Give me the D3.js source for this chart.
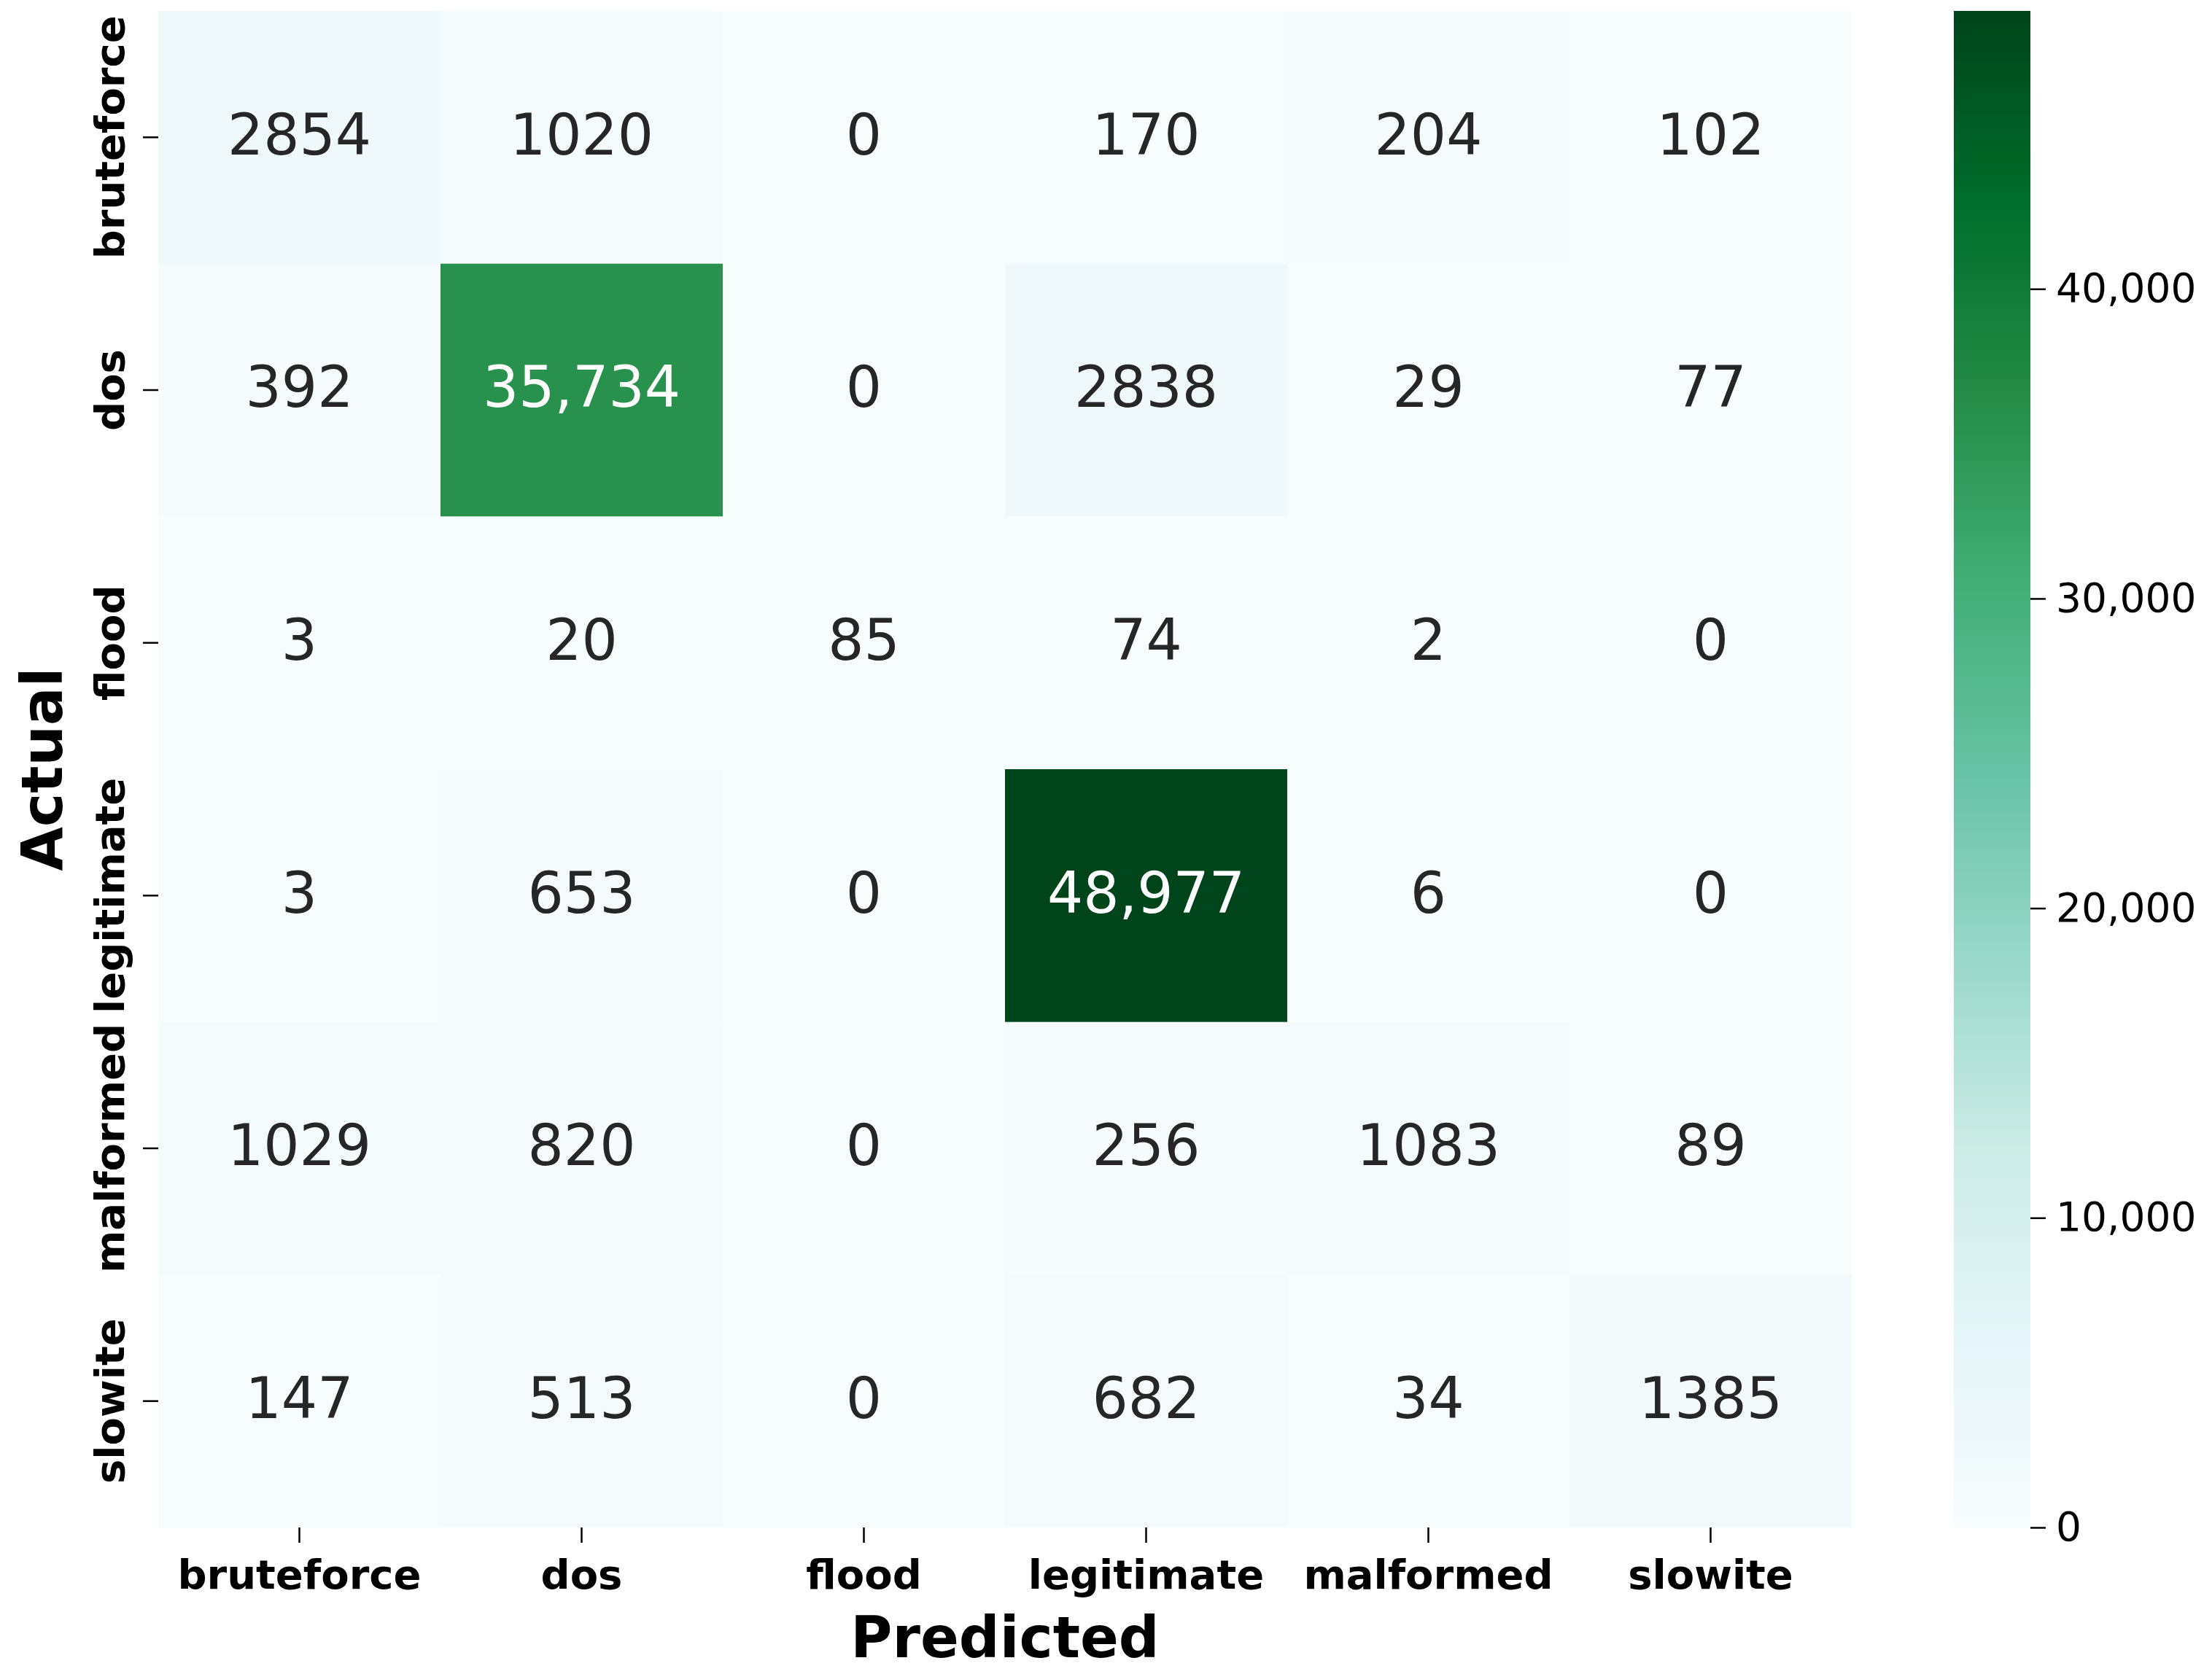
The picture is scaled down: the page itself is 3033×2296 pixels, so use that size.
<!DOCTYPE html>
<html>
<head>
<meta charset="utf-8">
<script src="https://cdn.jsdelivr.net/npm/d3@7"></script>
<style>
  html, body { margin: 0; padding: 0; background: #ffffff; }
  svg { display: block; font-family: "DejaVu Sans", sans-serif; }
</style>
</head>
<body>
<script>
// ---------- data ----------
const actualLabels = ["bruteforce", "dos", "flood", "legitimate", "malformed", "slowite"];
const predictedLabels = ["bruteforce", "dos", "flood", "legitimate", "malformed", "slowite"];
const rowBruteforce = [2854, 1020, 0, 170, 204, 102];
const rowDos        = [392, 35734, 0, 2838, 29, 77];
const rowFlood      = [3, 20, 85, 74, 2, 0];
const rowLegitimate = [3, 653, 0, 48977, 6, 0];
const rowMalformed  = [1029, 820, 0, 256, 1083, 89];
const rowSlowite    = [147, 513, 0, 682, 34, 1385];
const colorbarTicks = [0, 10000, 20000, 30000, 40000];
const bugnColors = ["#f7fcfd", "#e5f5f9", "#ccece6", "#99d8c9", "#66c2a4", "#41ae76", "#238b45", "#006d2c", "#00441b"];
const xAxisTitle = "Predicted";
const yAxisTitle = "Actual";

const matrix = [rowBruteforce, rowDos, rowFlood, rowLegitimate, rowMalformed, rowSlowite];
const cells = [];
matrix.forEach((row, i) => row.forEach((v, j) => cells.push({ actual: actualLabels[i], predicted: predictedLabels[j], value: v })));

// ---------- layout ----------
const W = 3033, H = 2296;
const hm = { left: 217, right: 2539, top: 15, bottom: 2095 };
const cb = { left: 2679, right: 2784, top: 15, bottom: 2095 };
const tickLen = 21;
const tickFont = 56, cbFont = 55, annotFont = 77.5, titleFont = 78;

const vmax = d3.max(cells, d => d.value);
const color = d3.scaleLinear()
  .domain(bugnColors.map((c, i) => i / (bugnColors.length - 1) * vmax))
  .range(bugnColors)
  .interpolate(d3.interpolateRgb);

const x = d3.scaleBand().domain(predictedLabels).range([hm.left, hm.right]).padding(0);
const y = d3.scaleBand().domain(actualLabels).range([hm.top, hm.bottom]).padding(0);

const svg = d3.select("body").append("svg").attr("width", W).attr("height", H);

// ---------- cells ----------
svg.append("g").selectAll("rect").data(cells).join("rect")
  .attr("x", d => x(d.predicted))
  .attr("y", d => y(d.actual))
  .attr("width", x.bandwidth() + 0.5)
  .attr("height", y.bandwidth() + 0.5)
  .attr("fill", d => color(d.value));

function relLum(c) {
  const rgb = d3.rgb(c);
  const f = v => { v /= 255; return v <= 0.03928 ? v / 12.92 : Math.pow((v + 0.055) / 1.055, 2.4); };
  return 0.2126 * f(rgb.r) + 0.7152 * f(rgb.g) + 0.0722 * f(rgb.b);
}
const fmtAnnot = v => v >= 10000 ? d3.format(",")(v) : String(v);

svg.append("g").selectAll("text").data(cells).join("text")
  .attr("x", d => x(d.predicted) + x.bandwidth() / 2)
  .attr("y", d => y(d.actual) + y.bandwidth() / 2 + annotFont * 0.3)
  .attr("text-anchor", "middle")
  .attr("font-size", annotFont)
  .attr("fill", d => relLum(color(d.value)) > 0.408 ? "#262626" : "#ffffff")
  .text(d => fmtAnnot(d.value));

// ---------- x axis ----------
const xAxis = d3.axisBottom(x).tickSize(tickLen).tickPadding(18);
const gx = svg.append("g").attr("transform", `translate(0,${hm.bottom})`).call(xAxis);
gx.select(".domain").remove();
gx.selectAll(".tick line").attr("stroke", "#000").attr("stroke-width", 2.5);
gx.selectAll(".tick text")
  .attr("font-family", "DejaVu Sans").attr("font-weight", "bold")
  .attr("font-size", tickFont).attr("fill", "#000")
  .attr("dy", null).attr("y", 0)
  .attr("transform", `translate(0,${2179 - hm.bottom})`);

// ---------- y axis ----------
const yAxis = d3.axisLeft(y).tickSize(tickLen).tickPadding(0);
const gy = svg.append("g").attr("transform", `translate(${hm.left},0)`).call(yAxis);
gy.select(".domain").remove();
gy.selectAll(".tick line").attr("stroke", "#000").attr("stroke-width", 2.5);
gy.selectAll(".tick text")
  .attr("font-family", "DejaVu Sans").attr("font-weight", "bold")
  .attr("font-size", tickFont).attr("fill", "#000")
  .attr("x", null).attr("dy", null)
  .attr("text-anchor", "middle")
  .attr("transform", `translate(${170 - hm.left},0) rotate(-90)`);

// ---------- axis titles ----------
svg.append("text")
  .attr("x", (hm.left + hm.right) / 2).attr("y", 2273)
  .attr("text-anchor", "middle").attr("font-weight", "bold")
  .attr("font-size", titleFont).attr("fill", "#000")
  .text(xAxisTitle);
svg.append("text")
  .attr("transform", `translate(85,${(hm.top + hm.bottom) / 2}) rotate(-90)`)
  .attr("text-anchor", "middle").attr("font-weight", "bold")
  .attr("font-size", titleFont).attr("fill", "#000")
  .text(yAxisTitle);

// ---------- colorbar ----------
const defs = svg.append("defs");
const grad = defs.append("linearGradient").attr("id", "cbgrad")
  .attr("x1", 0).attr("y1", 1).attr("x2", 0).attr("y2", 0);
grad.selectAll("stop").data(color.domain()).join("stop")
  .attr("offset", d => d / vmax)
  .attr("stop-color", d => color(d));

const cy = d3.scaleLinear().domain([0, vmax]).range([cb.bottom, cb.top]);
svg.append("rect")
  .attr("x", cb.left).attr("y", cb.top)
  .attr("width", cb.right - cb.left).attr("height", cb.bottom - cb.top)
  .attr("fill", "url(#cbgrad)");

const cAxis = d3.axisRight(cy).tickValues(colorbarTicks).tickFormat(d3.format(",")).tickSize(tickLen).tickPadding(14);
const gc = svg.append("g").attr("transform", `translate(${cb.right},0)`).call(cAxis);
gc.select(".domain").remove();
gc.selectAll(".tick line").attr("stroke", "#000").attr("stroke-width", 2.5);
gc.selectAll(".tick text")
  .attr("font-family", "DejaVu Sans").attr("font-size", cbFont).attr("fill", "#000");
</script>
</body>
</html>
